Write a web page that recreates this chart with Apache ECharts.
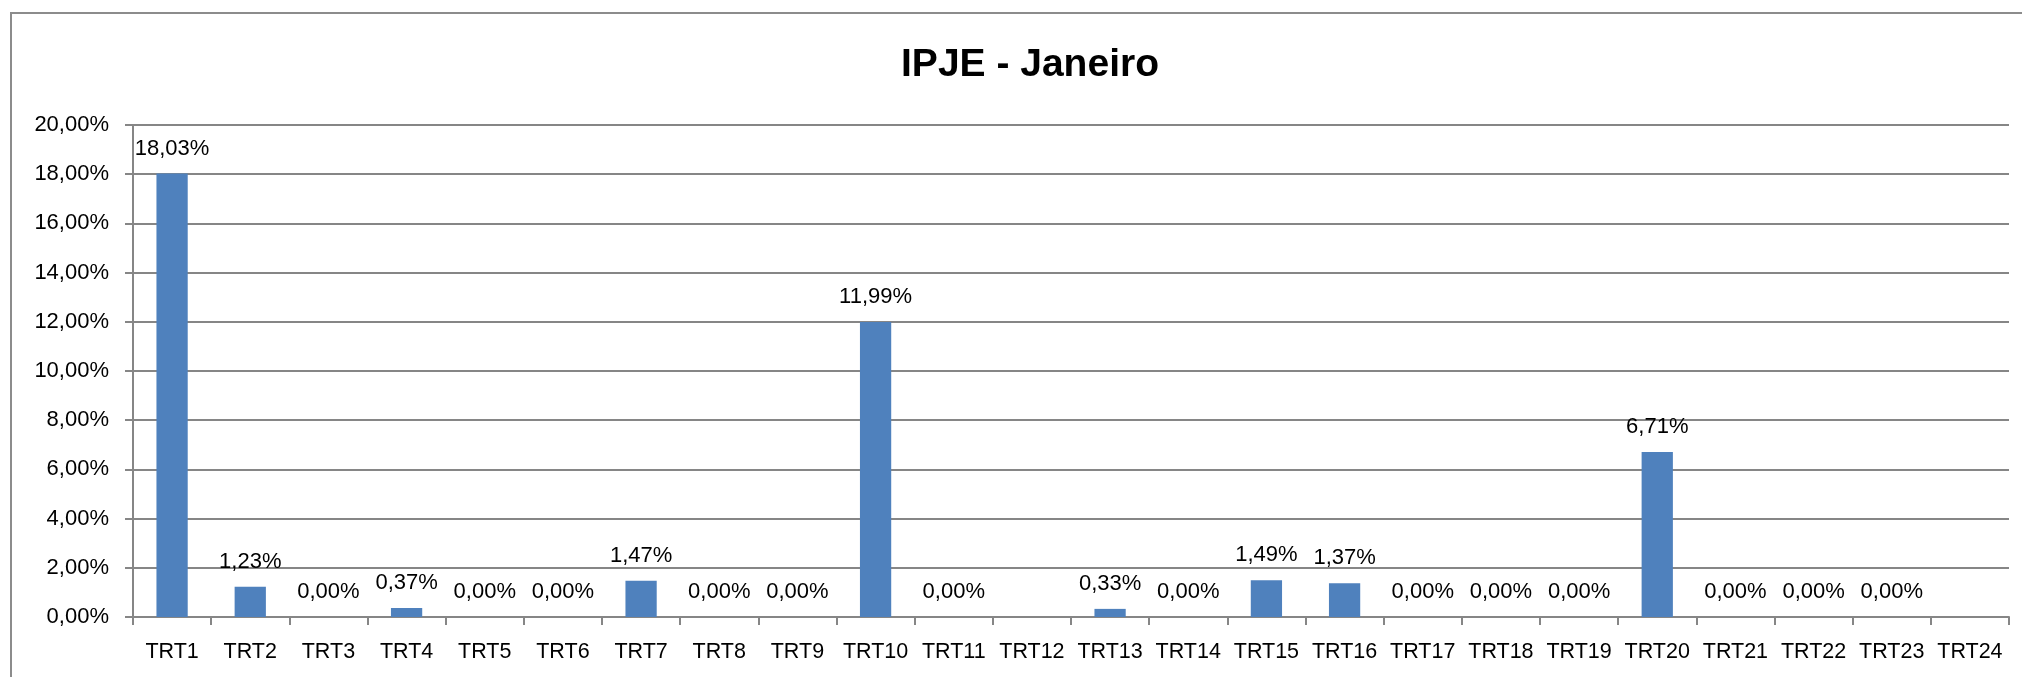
<!DOCTYPE html>
<html><head><meta charset="utf-8">
<script src="https://cdn.jsdelivr.net/npm/echarts@6/dist/echarts.min.js"></script>
<style>html,body{margin:0;padding:0;background:#fff}#c{width:2022px;height:677px}</style>
</head><body><div id="c"></div>
<script>
const categories = ['TRT1','TRT2','TRT3','TRT4','TRT5','TRT6','TRT7','TRT8','TRT9','TRT10','TRT11','TRT12','TRT13','TRT14','TRT15','TRT16','TRT17','TRT18','TRT19','TRT20','TRT21','TRT22','TRT23','TRT24'];
const values = [18.03,1.23,0.00,0.37,0.00,0.00,1.47,0.00,0.00,11.99,0.00,null,0.33,0.00,1.49,1.37,0.00,0.00,0.00,6.71,0.00,0.00,0.00,null];
const yTicks = {min:0, max:20, interval:2};
const title = 'IPJE - Janeiro';
const fmt = v => v.toFixed(2).replace('.', ',') + '%';
const chart = echarts.init(document.getElementById('c'));
chart.setOption({
  animation:false,
  graphic:[{type:'rect',shape:{x:11,y:13,width:2100,height:800},style:{fill:null,stroke:'#8c8c8c',lineWidth:2},silent:true}],
  title:{text:title,left:1025,top:41,textAlign:'center',textStyle:{fontFamily:'Liberation Sans',fontWeight:'bold',fontSize:39,color:'#000'}},
  grid:{left:133,top:125,right:13,bottom:60,containLabel:false},
  xAxis:{type:'category',data:categories,
    axisLine:{lineStyle:{color:'#868686',width:2}},
    axisTick:{show:true,length:8,alignWithLabel:false,lineStyle:{color:'#868686',width:2}},
    axisLabel:{color:'#000',fontFamily:'Liberation Sans',fontSize:21.5,margin:24,interval:0}},
  yAxis:{type:'value',min:yTicks.min,max:yTicks.max,interval:yTicks.interval,
    axisLine:{show:true,lineStyle:{color:'#868686',width:2}},
    axisTick:{show:true,length:8,lineStyle:{color:'#868686',width:2}},
    splitLine:{lineStyle:{color:'#868686',width:2}},
    axisLabel:{color:'#000',fontFamily:'Liberation Sans',fontSize:22,margin:24,formatter:v=>fmt(v)}},
  series:[{type:'bar',data:values,barWidth:'40%',itemStyle:{color:'#4F81BD'},
    label:{show:true,position:'top',distance:14,color:'#000',fontFamily:'Liberation Sans',fontSize:22,formatter:p=>fmt(p.value)}}]
});
</script></body></html>
